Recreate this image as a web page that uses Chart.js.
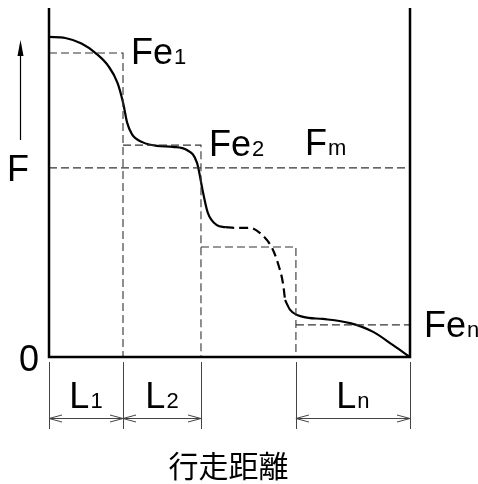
<!DOCTYPE html>
<html>
<head>
<meta charset="utf-8">
<script src="https://cdn.jsdelivr.net/npm/chart.js@4"></script>
<style>
  html, body { margin: 0; background: #fff; }
  #wrap { width: 478px; height: 484px; }
</style>
</head>
<body>
<div id="wrap"><canvas id="chart"></canvas></div>
<script>
// travel distance (0-100) vs. force F (0-100), arbitrary units
const stepEnds = [0, 20.5, 42.1, 68.4, 100];
const stepLevels = [87.1, 60.7, 31.5, 9.2];
const stepSubs = ['1', '2', null, 'n'];
const meanLevel = 54.2;
const spans = [[0, 1], [1, 2], [3, 4]];
const spanSubs = ['1', '2', 'n'];

const curveStart = [
  {x: 0, y: 91.7}, {x: 4.5, y: 91.4}, {x: 9.0, y: 89.8}, {x: 13.0, y: 87.0},
  {x: 16.5, y: 83.3}, {x: 19.0, y: 78.5}, {x: 20.6, y: 72.5}, {x: 21.6, y: 67.3},
  {x: 23.0, y: 63.8}, {x: 26.0, y: 61.5}, {x: 29.9, y: 60.5}, {x: 34.3, y: 60.2},
  {x: 38.2, y: 59.3}, {x: 41.0, y: 55.6}, {x: 42.7, y: 47.0}, {x: 44.0, y: 41.3},
  {x: 46.5, y: 37.8}, {x: 48.8, y: 37.2}
];
const curveMiddle = [
  {x: 48.8, y: 37.2}, {x: 51.5, y: 37.0}, {x: 55.7, y: 37.0}, {x: 59.0, y: 35.0},
  {x: 61.8, y: 31.2}, {x: 63.4, y: 26.9}, {x: 64.8, y: 21.2}, {x: 65.4, y: 16.3}
];
const curveEnd = [
  {x: 65.4, y: 16.3}, {x: 66.8, y: 13.5}, {x: 70.4, y: 11.5}, {x: 75.9, y: 10.9},
  {x: 83.4, y: 9.7}, {x: 89.8, y: 7.2}, {x: 95.3, y: 3.4}, {x: 100, y: 0}
];

// dashed step guides, broken with nulls
let guide = [];
stepLevels.forEach((lvl, i) => {
  guide.push({x: stepEnds[i], y: lvl}, {x: stepEnds[i + 1], y: lvl});
  if (i < stepLevels.length - 1) guide.push({x: stepEnds[i + 1], y: 0});
  guide.push({x: stepEnds[i + 1], y: null});
});

const FONT = '"Liberation Sans", Arial, sans-serif';
const BIG = '36px ' + FONT, SMALL = '22px ' + FONT;

function subText(ctx, main, sub, x, base, align) {
  ctx.font = BIG;
  let w1 = ctx.measureText(main).width;
  ctx.font = SMALL;
  let w2 = sub ? ctx.measureText(sub).width + 1 : 0;
  let x0 = align === 'center' ? x - (w1 + w2) / 2 : x;
  ctx.textAlign = 'left';
  ctx.textBaseline = 'alphabetic';
  ctx.font = BIG;
  ctx.fillText(main, x0, base);
  if (sub) {
    ctx.font = SMALL;
    ctx.fillText(sub, x0 + w1 + 1, base);
  }
}

function openArrow(ctx, x, y, dir) {
  ctx.beginPath();
  ctx.moveTo(x - dir * 13, y - 3.5);
  ctx.lineTo(x, y);
  ctx.lineTo(x - dir * 13, y + 3.5);
  ctx.stroke();
}

const decor = {
  id: 'decor',
  afterDatasetsDraw(chart) {
    const ctx = chart.ctx;
    const xs = chart.scales.x, ys = chart.scales.y;
    const a = chart.chartArea;
    ctx.save();
    ctx.fillStyle = '#000';

    // frame
    ctx.strokeStyle = '#000';
    ctx.lineWidth = 2.5;
    ctx.beginPath();
    ctx.moveTo(a.left, a.top);
    ctx.lineTo(a.left, a.bottom);
    ctx.lineTo(a.right, a.bottom);
    ctx.lineTo(a.right, a.top);
    ctx.stroke();

    // step labels
    stepSubs.forEach((s, i) => {
      if (!s) return;
      let px = i < 3 ? xs.getPixelForValue(stepEnds[i + 1]) + 8 : a.right + 14;
      subText(ctx, 'Fe', s, px, ys.getPixelForValue(stepLevels[i]) + 11 + (i === 3 ? 1 : 0));
    });
    subText(ctx, 'F', 'm', xs.getPixelForValue(stepEnds[3]) + 9, ys.getPixelForValue(meanLevel) - 13);

    // axis labels
    subText(ctx, 'F', null, 7, ys.getPixelForValue(meanLevel) + 13);
    ctx.font = BIG;
    ctx.textAlign = 'right';
    ctx.fillText('0', a.left - 10, a.bottom + 14);

    // F arrow
    ctx.lineWidth = 1.2;
    ctx.beginPath();
    ctx.moveTo(20.5, 140);
    ctx.lineTo(20.5, 44);
    ctx.stroke();
    ctx.beginPath();
    ctx.moveTo(20.5, 40);
    ctx.lineTo(17.5, 56);
    ctx.lineTo(23.5, 56);
    ctx.closePath();
    ctx.fill();

    // dimension lines
    ctx.strokeStyle = '#444';
    ctx.lineWidth = 1;
    const ext = new Set();
    spans.forEach(([i, j], k) => {
      let x1 = xs.getPixelForValue(stepEnds[i]);
      let x2 = xs.getPixelForValue(stepEnds[j]);
      ext.add(x1); ext.add(x2);
      ctx.beginPath();
      ctx.moveTo(x1, 418.5);
      ctx.lineTo(x2, 418.5);
      ctx.stroke();
      openArrow(ctx, x1, 418.5, -1);
      openArrow(ctx, x2, 418.5, 1);
      ctx.fillStyle = '#000';
      subText(ctx, 'L', spanSubs[k], (x1 + x2) / 2, 408, 'center');
    });
    ext.forEach(x => {
      ctx.beginPath();
      ctx.moveTo(Math.round(x) + 0.5, a.bottom + 5);
      ctx.lineTo(Math.round(x) + 0.5, 429);
      ctx.stroke();
    });

    // x title
    ctx.fillStyle = '#000';
    ctx.font = '30px "Noto Sans CJK JP", sans-serif';
    ctx.textAlign = 'center';
    ctx.textBaseline = 'middle';
    ctx.fillText('行走距離', (a.left + a.right) / 2 - 1, 466);
    ctx.restore();
  }
};

const chart = new Chart(document.getElementById('chart'), {
  type: 'line',
  data: {
    datasets: [
      {data: guide, borderColor: '#333', borderWidth: 1.1, borderDash: [8, 4], spanGaps: false, pointRadius: 0},
      {data: [{x: 0, y: meanLevel}, {x: 100, y: meanLevel}], borderColor: '#333', borderWidth: 1.1, borderDash: [8, 4], pointRadius: 0},
      {data: curveStart, borderColor: '#000', borderWidth: 2.2, cubicInterpolationMode: 'monotone', pointRadius: 0},
      {data: curveMiddle, borderColor: '#000', borderWidth: 2.2, borderDash: [9, 5], cubicInterpolationMode: 'monotone', pointRadius: 0},
      {data: curveEnd, borderColor: '#000', borderWidth: 2.2, cubicInterpolationMode: 'monotone', pointRadius: 0}
    ]
  },
  options: {
    responsive: true,
    maintainAspectRatio: false,
    animation: false,
    layout: {padding: {left: 49, right: 68, top: 8, bottom: 127}},
    scales: {
      x: {type: 'linear', min: 0, max: 100, display: false},
      y: {type: 'linear', min: 0, max: 100, display: false}
    },
    plugins: {legend: {display: false}, tooltip: {enabled: false}}
  },
  plugins: [decor]
});
</script>
</body>
</html>
